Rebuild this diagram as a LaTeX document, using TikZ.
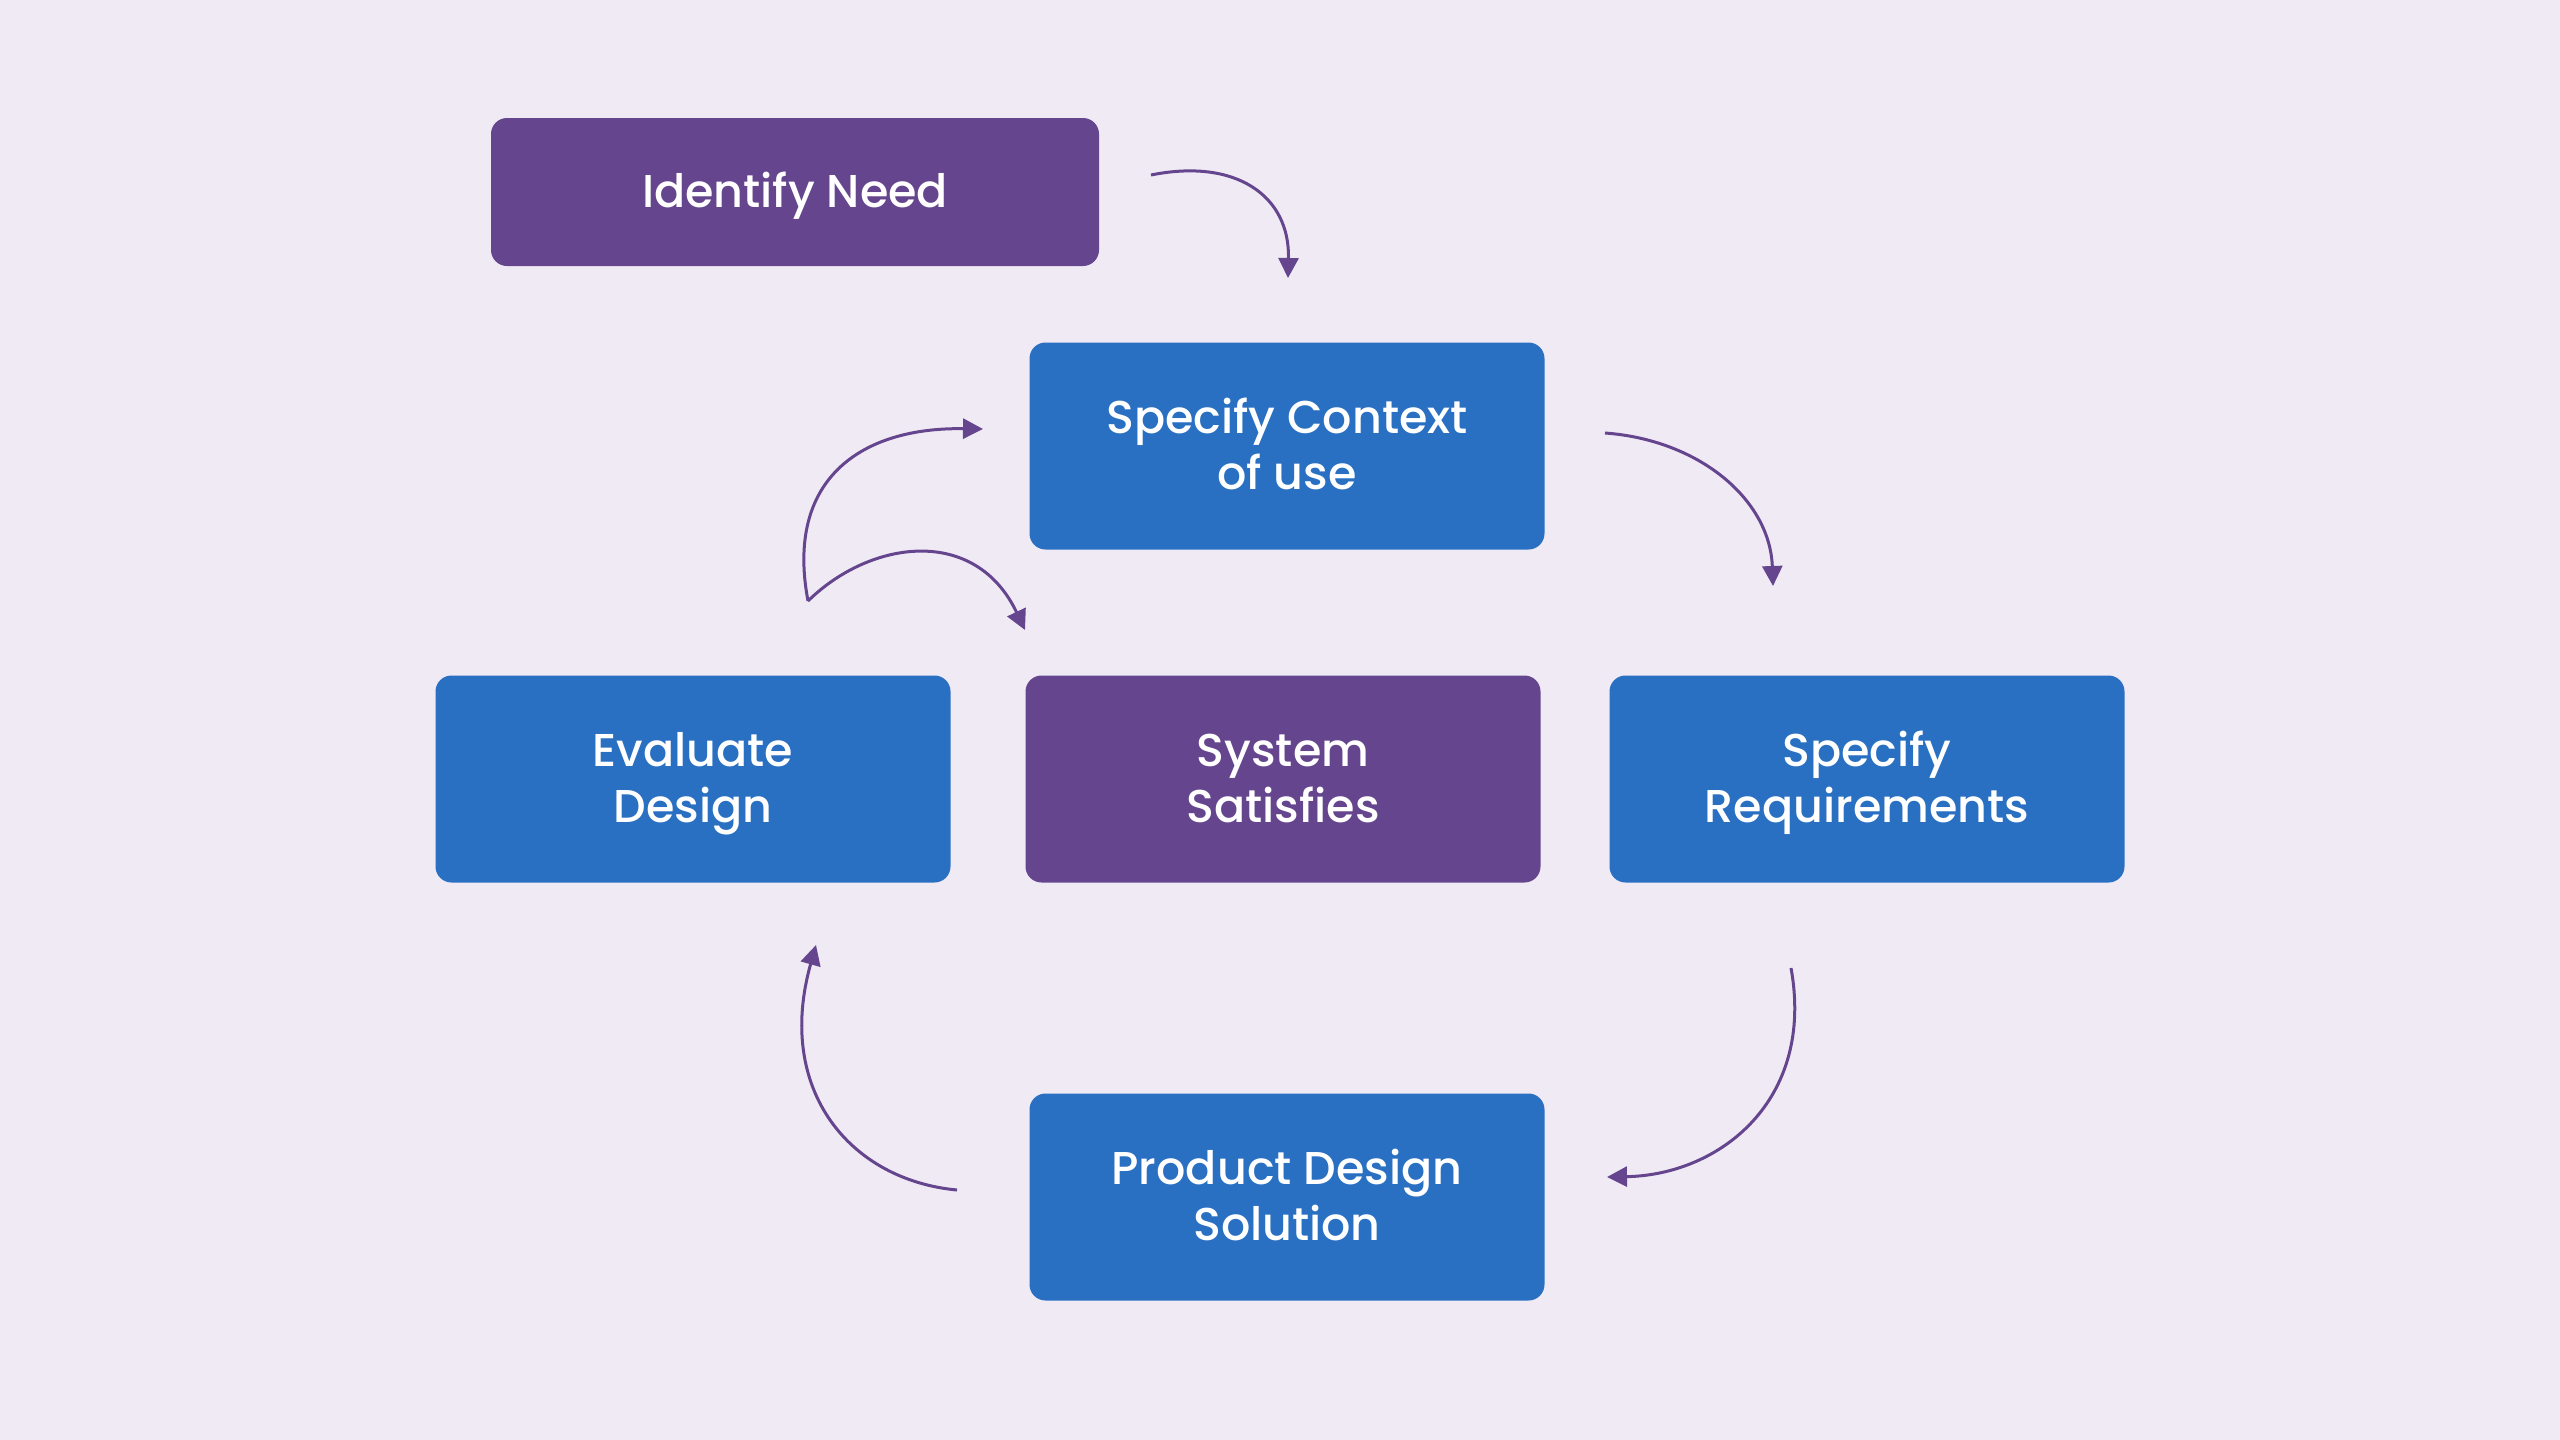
\documentclass[tikz,border=0pt]{standalone}
\usepackage{fontspec}
\setmainfont{Poppins Medium}
\usetikzlibrary{arrows.meta}
\definecolor{bg}{HTML}{F0EAF5}
\definecolor{pur}{HTML}{65468E}
\definecolor{blu}{HTML}{2A70C2}
\newcommand{\bx}{\rule[-6.5pt]{0pt}{28pt}}
\tikzset{
  box/.style={rounded corners=8pt, minimum width=257.5pt, minimum height=103.5pt, text=white, align=center, font=\fontsize{23}{28}\selectfont, inner sep=0pt},
  bluebox/.style={box, fill=blu},
  purbox/.style={box, fill=pur},
  conn/.style={draw=pur, line width=1.5pt, -{Triangle[length=10pt,width=10pt]}}
}
\begin{document}
\begin{tikzpicture}[x=0.5pt,y=-0.5pt]
\fill[bg] (0,0) rectangle (2560,1440);
\useasboundingbox (0,0) rectangle (2560,1440);
\node[purbox, minimum width=304pt, minimum height=74pt] (need) at (795,192) {\bx Identify Need};
\node[bluebox] (ctx) at (1287,446) {\bx Specify Context\\\bx of use};
\node[bluebox] (eval) at (693,779) {\bx Evaluate\\\bx Design};
\node[purbox] (sys) at (1283,779) {\bx System\\\bx Satisfies};
\node[bluebox] (req) at (1867,779) {\bx Specify\\\bx Requirements};
\node[bluebox] (prod) at (1287,1197) {\bx Product Design\\\bx Solution};
\coordinate (a1) at (1151,175);
\coordinate (b1) at (1288,278);
\coordinate (a2) at (1605,433);
\coordinate (b2) at (1773,586);
\coordinate (a3) at (1791,968);
\coordinate (b3) at (1607,1177);
\coordinate (a4) at (957,1190);
\coordinate (b4) at (816,945);
\coordinate (a5) at (808,601);
\coordinate (b5) at (983,429);
\coordinate (b6) at (1025,630);
\draw[conn] (a1) .. controls (1235,158) and (1290,195) .. (b1);
\draw[conn] (a2) .. controls (1700,440) and (1770,500) .. (b2);
\draw[conn] (a3) .. controls (1815,1100) and (1720,1175) .. (b3);
\draw[conn] (a4) .. controls (850,1180) and (775,1090) .. (b4);
\draw[conn] (a5) .. controls (785,480) and (860,427) .. (b5);
\draw[conn] (a5) .. controls (870,540) and (975,525) .. (b6);
\end{tikzpicture}
\end{document}
